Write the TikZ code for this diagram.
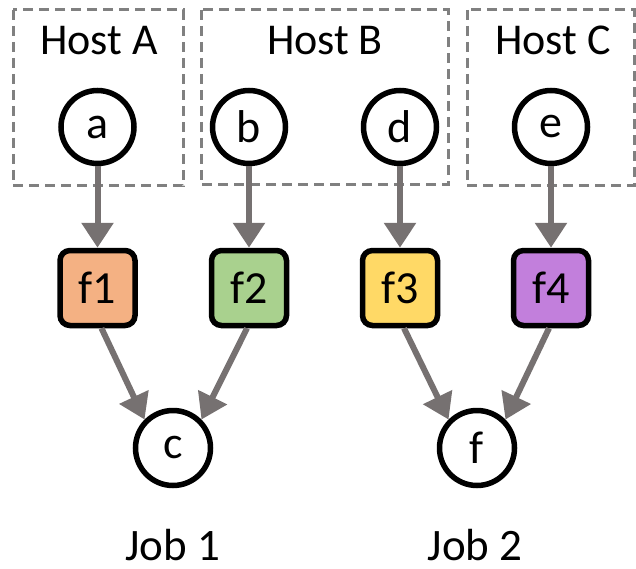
\documentclass[tikz,border=0pt]{standalone}
\usepackage{fontspec}
\setmainfont{Carlito}
\usetikzlibrary{arrows.meta}

\definecolor{edgegray}{HTML}{767171}
\definecolor{hostgray}{HTML}{808080}
\definecolor{fone}{HTML}{F4B183}
\definecolor{ftwo}{HTML}{A9D18E}
\definecolor{fthree}{HTML}{FFD966}
\definecolor{ffour}{HTML}{C27FDC}

\tikzset{
  hostbox/.style={draw=hostgray, line width=3pt, dash pattern=on 10pt off 6pt},
  vertex/.style={circle, draw=black, line width=5.5pt, fill=white,
                 minimum size=73pt, inner sep=0pt, font=\fontsize{46}{50}\selectfont},
  funcbox/.style={rectangle, rounded corners=10pt, draw=black, line width=5.5pt,
                  minimum size=75pt, inner sep=0pt, font=\fontsize{46}{50}\selectfont},
  caption/.style={anchor=base, inner sep=0pt, font=\fontsize{44}{50}\selectfont},
  flow/.style={draw=edgegray, line width=6pt,
               -{Triangle[length=25pt, width=31pt]}},
}

\begin{document}
\begin{tikzpicture}[x=1pt, y=-1pt]
  \useasboundingbox (0,0) rectangle (636,569);

  % host groups
  \draw[hostbox] (13,10) rectangle (183,186);
  \draw[hostbox] (201,10) rectangle (448,185);
  \draw[hostbox] (467,10) rectangle (634,186);
  \node[caption] (hostA) at (99,55) {Host A};
  \node[caption] (hostB) at (325,55) {Host B};
  \node[caption] (hostC) at (553,55) {Host C};

  % sources
  \node[vertex] (a) at (97.5,127) {a};
  \node[vertex] (b) at (249,127) {b};
  \node[vertex] (d) at (400,127) {d};
  \node[vertex] (e) at (551,127) {e};

  % functions
  \node[funcbox, fill=fone]   (f1) at (97.5,288) {f1};
  \node[funcbox, fill=ftwo]   (f2) at (249,288) {f2};
  \node[funcbox, fill=fthree] (f3) at (400,288) {f3};
  \node[funcbox, fill=ffour]  (f4) at (551,288) {f4};

  % sinks
  \node[vertex, minimum size=75pt] (c) at (173,448) {c};
  \node[vertex, minimum size=75pt] (f) at (477,448) {f};

  % job captions
  \node[caption, font=\fontsize{45}{50}\selectfont] (job1) at (172.5,560) {Job 1};
  \node[caption, font=\fontsize{45}{50}\selectfont] (job2) at (475,560) {Job 2};

  % edges
  \draw[flow] (a) -- (f1);
  \draw[flow] (b) -- (f2);
  \draw[flow] (d) -- (f3);
  \draw[flow] (e) -- (f4);
  \draw[flow] ([xshift=4pt]f1.south) -- (c.135);
  \draw[flow] ([xshift=-2pt]f2.south) -- (c.45);
  \draw[flow] ([xshift=4pt]f3.south) -- (f.135);
  \draw[flow] ([xshift=-2pt]f4.south) -- (f.45);
\end{tikzpicture}
\end{document}
